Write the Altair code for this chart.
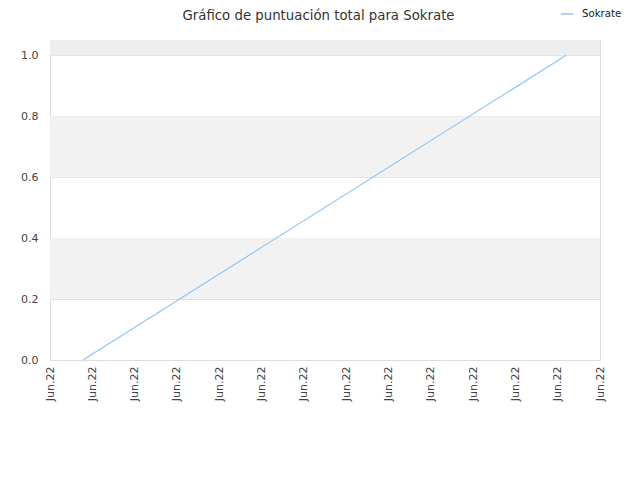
import altair as alt
import pandas as pd

# data
x_pos = [0.78, 12.2]
scores = [0.0, 1.0]
series = ["Sokrate", "Sokrate"]
tick_positions = list(range(14))
tick_label = "Jun.22"
band_lo = [0.2, 0.6, 1.0]
band_hi = [0.4, 0.8, 1.05]
band_col = ["#f2f2f2", "#f2f2f2", "#eeeeee"]
title_text = ["Gráfico de puntuación total para Sokrate"]

df = pd.DataFrame({"x": x_pos, "y": scores, "serie": series})
bands = pd.DataFrame({"y": band_lo, "y2": band_hi, "c": band_col})
tdf = pd.DataFrame({"t": title_text})

xs = alt.Scale(domain=[0, 13], nice=False, zero=False)
ys = alt.Scale(domain=[0, 1.05], nice=False)

band_layer = alt.Chart(bands).mark_rect().encode(
    x=alt.value(0), x2=alt.value(550),
    y=alt.Y("y:Q", scale=ys), y2="y2:Q",
    fill=alt.Fill("c:N", scale=None, legend=None),
)

line = alt.Chart(df).mark_line(strokeWidth=1.2).encode(
    x=alt.X("x:Q", scale=xs, title=None,
            axis=alt.Axis(values=tick_positions, labelExpr=f"'{tick_label}'",
                          labelAngle=270, labelAlign="right", labelBaseline="middle",
                          labelFontSize=11, labelColor="#444", grid=False,
                          ticks=False, domainColor="#dddddd", labelPadding=6,
                          labelFont="DejaVu Sans")),
    y=alt.Y("y:Q", scale=ys, title=None,
            axis=alt.Axis(values=[0, 0.2, 0.4, 0.6, 0.8, 1.0], format=".1f",
                          labelFontSize=11, labelColor="#444", gridColor="#e0e0e0",
                          ticks=False, domainColor="#dddddd", labelPadding=12,
                          labelFont="DejaVu Sans")),
    color=alt.Color("serie:N", scale=alt.Scale(range=["#90c4f4"]),
                    legend=alt.Legend(title=None, orient="none", legendX=510, legendY=-33,
                                      symbolType="stroke", symbolSize=150, symbolStrokeWidth=1.5,
                                      labelOffset=8,
                                      labelFontSize=10.2, labelColor="#222",
                                      labelFont="DejaVu Sans")),
)

title_layer = alt.Chart(tdf).mark_text(
    fontSize=13.3, color="#333", font="DejaVu Sans", align="center", baseline="alphabetic"
).encode(text="t:N", x=alt.value(268.5), y=alt.value(-20))

chart = alt.layer(band_layer, line, title_layer).properties(
    width=550, height=320,
    autosize=alt.AutoSizeParams(type="none"),
    padding={"left": 42, "top": 32, "right": 24, "bottom": 100},
).configure_view(stroke="#dddddd")

chart.save("out.html", embed_options={"renderer": "svg", "actions": False})
